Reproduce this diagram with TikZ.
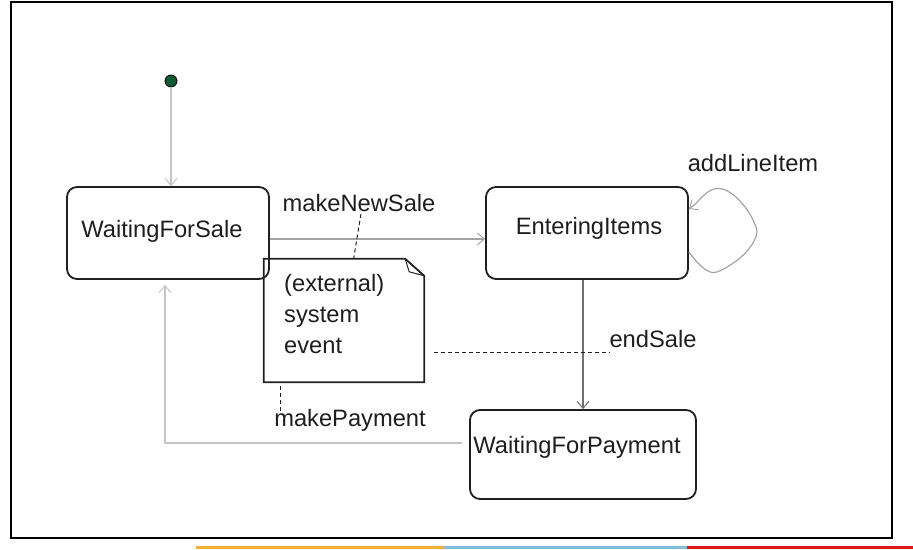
\documentclass[tikz,border=0pt]{standalone}
\usepackage{fontspec}
\setmainfont{Liberation Sans}
\usetikzlibrary{arrows.meta,calc}
\definecolor{txt}{HTML}{1E1E1E}
\definecolor{boxc}{HTML}{202020}
\definecolor{gA}{HTML}{C4C4C4}
\definecolor{gB}{HTML}{A4A4A4}
\definecolor{gC}{HTML}{707070}
\definecolor{initgreen}{HTML}{0E5A32}
\definecolor{barorange}{HTML}{F2B233}
\definecolor{barblue}{HTML}{80BEDD}
\definecolor{barred}{HTML}{E3161C}
\begin{document}
\begin{tikzpicture}[x=1pt,y=-1pt,
  every node/.style={font=\fontsize{23.7}{31}\selectfont, text=txt},
  state/.style={draw=boxc, line width=1.8pt, rounded corners=10pt, minimum width=202pt, minimum height=92pt, inner sep=0pt},
  lbl/.style={inner sep=0pt},
  trans/.style={line width=1.2pt, -{Straight Barb[length=7pt,width=12pt,line width=1pt]}},
  notelink/.style={line width=1pt, draw=boxc, dash pattern=on 4pt off 3pt}]
\useasboundingbox (0,0) rectangle (913,549);
% frame and colour bar
\draw[line width=1.5pt] (11,2) rectangle (892,538);
\fill[barorange] (196,546) rectangle (444,549);
\fill[barblue] (444,546) rectangle (687,549);
\fill[barred] (687,546) rectangle (913,549);
% states
\node[circle, draw=black, fill=initgreen, minimum size=12pt, inner sep=0pt, line width=0.8pt] (init) at (171,81) {};
\node[state, text depth=9pt] (wfs) at (168,233) {WaitingForSale\kern12pt};
\node[state, text depth=15pt] (ei) at (587,233) {\kern4pt EnteringItems};
\node[state, minimum width=226pt, minimum height=89pt, text depth=20pt] (wfp) at (583,454.5) {WaitingForPayment\kern12pt};
% note
\node[minimum width=160pt, minimum height=123pt, inner sep=0pt] (note) at (344,320.5) {};
\draw[line width=1.8pt, draw=boxc] (note.north west) -- ($(note.north east)+(-19,0)$) -- ($(note.north east)+(0,17)$) -- (note.south east) -- (note.south west) -- cycle;
\draw[line width=1pt, draw=boxc] ($(note.north east)+(-19,0)$) -- ($(note.north east)+(-15,13)$) -- ($(note.north east)+(0,17)$);
\node[anchor=north west, align=left, inner sep=0pt] (notetext) at (284,274) {(external)\\system\\event};
% labels
\node[lbl] (lmns) at (359,203) {makeNewSale};
\node[lbl] (lali) at (753,163) {addLineItem};
\node[lbl] (lend) at (653,339) {endSale};
\node[lbl] (lmp) at (350,420) {makePayment};
% transitions
\draw[trans, draw=gA] (init) -- (init |- wfs.north);
\coordinate (ym) at (0,239);
\draw[trans, draw=gB] (wfs.east |- ym) -- (ei.west |- ym);
\coordinate (l1) at (689,252);
\coordinate (l2) at (690,209);
\draw[trans, draw=gB] (ei.east |- l1) .. controls (695,260) and (707,276) .. (717,272)
  .. controls (735,265) and (755.5,247) .. (757,232)
  .. controls (755.5,217) and (732,183.6) .. (714,189)
  .. controls (704,192) and (698,203) .. (ei.east |- l2);
\coordinate (xe) at (583,0);
\draw[trans, draw=gC] (ei.south -| xe) -- (wfp.north -| xe);
\coordinate (rc) at (165,443);
\draw[trans, draw=gA] ([xshift=-7pt]wfp.west |- rc) -- (rc) -- ([yshift=-5pt]rc |- wfs.south);
% note links
\draw[notelink] ($(lmns.south)+(2,2)$) -- ($(note.north west)!0.56!(note.north east)$);
\coordinate (e1) at (434,352);
\draw[notelink] (e1) -- (e1 -| lend.west);
\coordinate (m1) at ($(note.south west)+(17,4)$);
\draw[notelink] (m1) -- ([yshift=-4pt]m1 |- lmp.north);
\end{tikzpicture}
\end{document}
